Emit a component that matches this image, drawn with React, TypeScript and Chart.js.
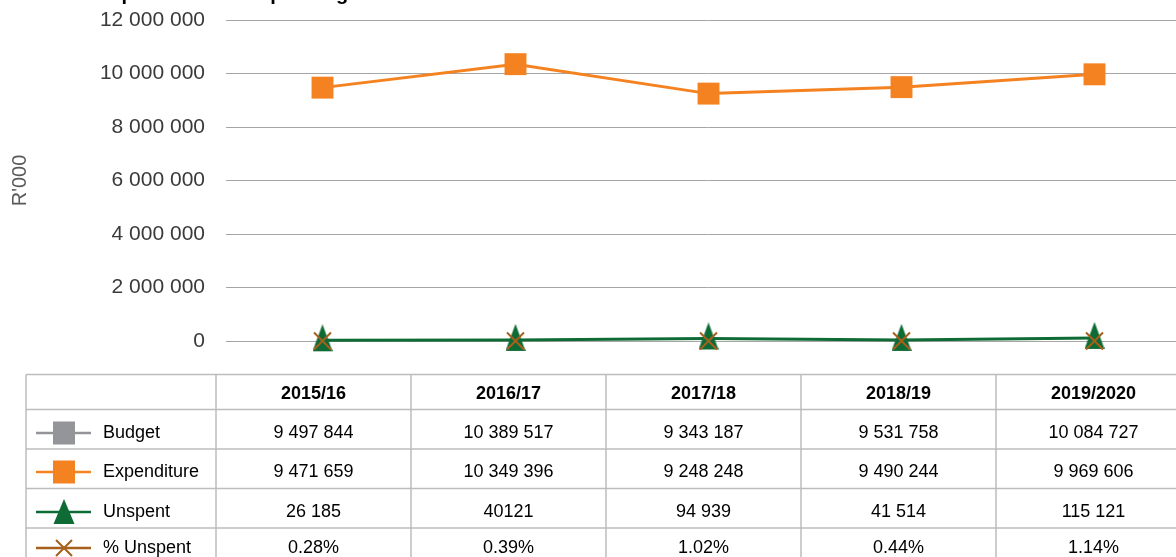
import React, { useEffect, useRef } from "react";
import { Chart, registerables } from "chart.js";

Chart.register(...registerables);

const categories = ["2015/16", "2016/17", "2017/18", "2018/19", "2019/2020"];
const budget = [9497844, 10389517, 9343187, 9531758, 10084727];
const expenditure = [9471659, 10349396, 9248248, 9490244, 9969606];
const unspent = [26185, 40121, 94939, 41514, 115121];
const unspentText = ["26 185", "40121", "94 939", "41 514", "115 121"];
const pctUnspent = [0.28, 0.39, 1.02, 0.44, 1.14];
const seriesNames = ["Budget", "Expenditure", "Unspent", "% Unspent"];
const yMin = 0;
const yMax = 12000000;
const yStep = 2000000;
const titleText = "Expenditure and spending";
const yAxisTitle = "R'000";

const FONT = "'Liberation Sans', Arial, Helvetica, sans-serif";
const C_BUDGET = "#939598";
const C_EXP = "#F58220";
const C_UNSPENT = "#0E6B35";
const C_PCT = "#A6601C";

const fmt = (v: number) => String(v).replace(/\B(?=(\d{3})+(?!\d))/g, " ");

function makeTriangle(w: number, h: number, above: number): HTMLCanvasElement {
  const below = h - above;
  const ch = 2 * Math.max(above, below);
  const c = document.createElement("canvas");
  c.width = w;
  c.height = ch;
  const g = c.getContext("2d")!;
  const top = ch / 2 - above;
  g.fillStyle = C_UNSPENT;
  g.beginPath();
  g.moveTo(w / 2, top);
  g.lineTo(w, top + h);
  g.lineTo(0, top + h);
  g.closePath();
  g.fill();
  return c;
}

const titlePlugin = {
  id: "cutTitle",
  afterDraw(chart: any) {
    const ctx = chart.ctx;
    ctx.save();
    ctx.font = `bold 20px ${FONT}`;
    ctx.fillStyle = "#000";
    ctx.textAlign = "left";
    ctx.textBaseline = "alphabetic";
    ctx.fillText(titleText, 97, 0);
    ctx.restore();
  },
};

const tablePlugin = {
  id: "dataTable",
  afterDraw(chart: any) {
    const ctx = chart.ctx;
    const colX = [26, 216, 411, 606, 801, 996, 1191];
    const rowY = [374.5, 409.5, 449, 488.5, 528, 567];
    const baselines = [398.5, 438, 477, 517, 553];
    ctx.save();
    ctx.strokeStyle = "#BDBDBD";
    ctx.lineWidth = 1.5;
    rowY.forEach((y) => {
      ctx.beginPath();
      ctx.moveTo(colX[0], y);
      ctx.lineTo(colX[colX.length - 1], y);
      ctx.stroke();
    });
    colX.forEach((x) => {
      ctx.beginPath();
      ctx.moveTo(x, rowY[0]);
      ctx.lineTo(x, rowY[rowY.length - 1]);
      ctx.stroke();
    });

    ctx.fillStyle = "#000";
    ctx.textAlign = "center";
    ctx.textBaseline = "alphabetic";
    ctx.font = `bold 18px ${FONT}`;
    categories.forEach((c, i) => {
      ctx.fillText(c, (colX[i + 1] + colX[i + 2]) / 2, baselines[0]);
    });

    const rows: string[][] = [
      budget.map(fmt),
      expenditure.map(fmt),
      unspentText,
      pctUnspent.map((v) => v.toFixed(2) + "%"),
    ];
    ctx.font = `18px ${FONT}`;
    rows.forEach((vals, r) => {
      vals.forEach((v, i) => {
        ctx.fillText(v, (colX[i + 1] + colX[i + 2]) / 2, baselines[r + 1]);
      });
    });

    const colors = [C_BUDGET, C_EXP, C_UNSPENT, C_PCT];
    ctx.textAlign = "left";
    seriesNames.forEach((name, r) => {
      const bl = baselines[r + 1];
      const ly = bl - 5;
      const cx = 64;
      ctx.strokeStyle = colors[r];
      ctx.lineWidth = 2.5;
      ctx.beginPath();
      ctx.moveTo(36, ly);
      ctx.lineTo(91, ly);
      ctx.stroke();
      ctx.fillStyle = colors[r];
      if (r <= 1) {
        ctx.fillRect(cx - 11, ly - 11.5, 22, 23);
      } else if (r === 2) {
        ctx.beginPath();
        ctx.moveTo(cx, ly - 13);
        ctx.lineTo(cx + 10.5, ly + 12);
        ctx.lineTo(cx - 10.5, ly + 12);
        ctx.closePath();
        ctx.fill();
      } else {
        ctx.lineWidth = 2;
        ctx.beginPath();
        ctx.moveTo(cx - 8, ly - 8);
        ctx.lineTo(cx + 8, ly + 8);
        ctx.moveTo(cx + 8, ly - 8);
        ctx.lineTo(cx - 8, ly + 8);
        ctx.stroke();
      }
      ctx.fillStyle = "#000";
      ctx.fillText(name, 103, bl);
    });
    ctx.restore();
  },
};

export default function App() {
  const ref = useRef<HTMLCanvasElement | null>(null);

  useEffect(() => {
    document.body.style.margin = "0";
    document.body.style.overflow = "hidden";
    const canvas = ref.current;
    if (!canvas) return;
    const tri = makeTriangle(20, 27, 16);
    const chart = new Chart(canvas, {
      type: "line",
      data: {
        labels: categories,
        datasets: [
          {
            label: seriesNames[3],
            data: pctUnspent,
            showLine: false,
            pointStyle: "crossRot",
            pointRadius: 12,
            pointBorderWidth: 2,
            pointBorderColor: C_PCT,
            pointBackgroundColor: C_PCT,
            borderColor: C_PCT,
            order: 0,
            clip: false,
          },
          {
            label: seriesNames[2],
            data: unspent,
            borderColor: C_UNSPENT,
            backgroundColor: C_UNSPENT,
            borderWidth: 3,
            pointStyle: tri as any,
            pointRadius: 10,
            pointBorderWidth: 0,
            order: 1,
            clip: false,
          },
          {
            label: seriesNames[1],
            data: expenditure,
            borderColor: C_EXP,
            backgroundColor: C_EXP,
            borderWidth: 3,
            pointStyle: "rect",
            pointRadius: 15.5,
            pointBorderWidth: 0,
            pointBackgroundColor: C_EXP,
            order: 2,
            clip: false,
          },
          {
            label: seriesNames[0],
            data: budget,
            hidden: true,
            borderColor: C_BUDGET,
            backgroundColor: C_BUDGET,
            borderWidth: 3,
            pointStyle: "rect",
            pointRadius: 15.5,
            order: 3,
            clip: false,
          },
        ],
      },
      options: {
        responsive: false,
        animation: false,
        events: [],
        layout: { autoPadding: false, padding: { left: 0, right: 19, top: 20, bottom: 216 } },
        plugins: {
          legend: { display: false },
          tooltip: { enabled: false },
          title: { display: false },
        },
        scales: {
          x: {
            type: "category",
            display: false,
            offset: true,
          },
          y: {
            min: yMin,
            max: yMax,
            border: { display: false },
            grid: { color: "#A6A6A6", lineWidth: 1, drawTicks: false },
            ticks: {
              stepSize: yStep,
              padding: 21,
              color: "#3A3A3A",
              font: { family: FONT, size: 21 },
              callback: (v: any) => fmt(Number(v)),
            },
            title: {
              display: true,
              text: yAxisTitle,
              color: "#595959",
              font: { family: FONT, size: 20 },
              padding: { top: 8, bottom: 0 },
            },
            afterFit: (scale: any) => {
              scale.width = 226;
              scale.paddingTop = 10;
              scale.paddingBottom = 10;
            },
          },
        },
      },
      plugins: [titlePlugin, tablePlugin],
    });
    return () => chart.destroy();
  }, []);

  return (
    <div style={{ width: 1176, height: 557, overflow: "hidden", position: "relative", background: "#fff" }}>
      <canvas ref={ref} width={1210} height={557} style={{ display: "block", width: 1210, height: 557 }} />
    </div>
  );
}
